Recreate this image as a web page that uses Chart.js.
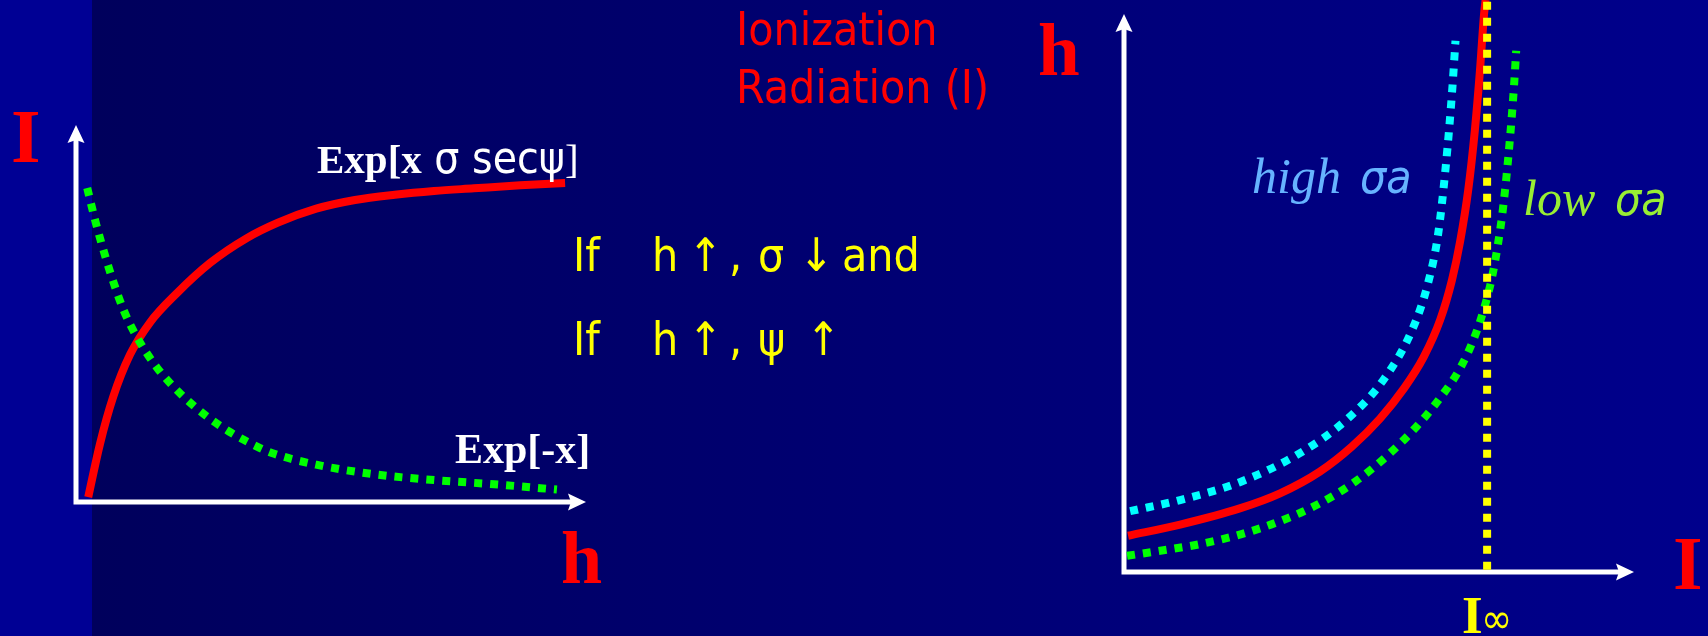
<!DOCTYPE html>
<html><head><meta charset="utf-8">
<script src="https://cdn.jsdelivr.net/npm/chart.js@4/dist/chart.umd.min.js"></script>
<style>
html,body{margin:0;padding:0;width:1708px;height:636px;overflow:hidden;background:#000070;}
#bg{position:absolute;left:0;top:0;width:1708px;height:636px;background:linear-gradient(to right,#00005c 92px,#000070 800px,#00008c 1708px);}
#strip{position:absolute;left:0;top:0;width:92px;height:636px;background:#000094;}
canvas{position:absolute;left:0;top:0;}
</style></head><body>
<div id="bg"></div><div id="strip"></div>
<canvas id="c1" width="1708" height="636"></canvas>
<canvas id="c2" width="1708" height="636"></canvas>
<script>
// ---- Left chart: I versus h ----
const leftRedH = [2.4, 4.7, 7.3, 10.6, 14.5, 19.8, 26.3, 33.5, 39.6, 47.1, 54.7, 62.5, 70.2, 78.0, 87.1, 95.9];
const leftRedI = [1.3, 15.4, 27.9, 39.1, 47.6, 55.4, 63.4, 70.0, 74.1, 77.8, 80.1, 81.5, 82.5, 83.2, 84.0, 84.6];
const leftGreenH = [2.2, 3.7, 5.3, 7.1, 9.4, 12.0, 15.9, 20.2, 24.9, 30.0, 35.5, 38.4, 47.1, 58.8, 70.4, 82.0, 94.3];
const leftGreenI = [83.3, 75.0, 67.2, 59.3, 50.7, 43.6, 35.6, 29.1, 23.5, 18.7, 14.7, 13.0, 9.9, 7.3, 5.8, 4.7, 3.3];

// ---- Right chart: h versus I ----
const rightRedI = [0.8, 11.0, 22.7, 30.6, 38.4, 44.7, 50.2, 54.9, 58.8, 62.0, 64.3, 65.9, 67.5, 68.8, 69.8, 70.6, 70.9];
const rightRedH = [6.5, 8.5, 11.4, 14.1, 18.0, 22.5, 27.5, 32.9, 38.6, 45.2, 52.3, 59.2, 68.5, 79.2, 89.9, 100.0, 102.5];
const rightCyanI = [1.2, 11.0, 22.7, 34.5, 43.9, 51.0, 56.5, 59.6, 61.6, 63.1, 64.3, 65.0];
const rightCyanH = [10.9, 12.9, 16.1, 21.3, 27.5, 34.6, 43.4, 51.7, 60.6, 72.8, 85.7, 95.2];
const rightGreenI = [0.6, 7.1, 14.9, 22.7, 30.6, 38.4, 45.5, 51.8, 57.3, 62.0, 65.9, 68.6, 70.6, 72.2, 73.3, 74.1, 74.7, 75.3, 76.1, 76.5, 76.9];
const rightGreenH = [2.9, 3.8, 5.0, 6.7, 9.1, 12.3, 16.3, 21.0, 26.0, 31.2, 36.5, 41.8, 47.2, 53.0, 58.6, 63.6, 68.3, 73.8, 82.4, 87.5, 93.4];
const iInfinity = 71.2;
const iInfinityH = [0.4, 102.5];

function pts(xs, ys){ return xs.map((x, i) => ({x: x, y: ys[i]})); }

const SERIF = "'Liberation Serif','Times New Roman',serif";
const SANS = "'DejaVu Sans Condensed','DejaVu Sans',sans-serif";

function runs(ctx, x, y, list){
  let cx = x;
  ctx.textBaseline = 'alphabetic';
  ctx.textAlign = 'left';
  for (const r of list){
    ctx.font = r[1];
    ctx.fillStyle = r[2];
    if (r[3] !== undefined) cx = r[3];
    ctx.fillText(r[0], cx, y);
    cx += ctx.measureText(r[0]).width;
  }
}

function arrowAxes(ctx, x0, y0, xTip, yTip){
  ctx.save();
  ctx.strokeStyle = '#ffffff';
  ctx.fillStyle = '#ffffff';
  ctx.lineWidth = 5;
  ctx.lineCap = 'butt';
  ctx.beginPath();
  ctx.moveTo(x0, y0 + 2.5); ctx.lineTo(x0, yTip + 14);
  ctx.moveTo(x0 - 2.5, y0); ctx.lineTo(xTip - 14, y0);
  ctx.stroke();
  ctx.beginPath();
  ctx.moveTo(x0, yTip); ctx.lineTo(x0 - 8.5, yTip + 18); ctx.lineTo(x0, yTip + 15); ctx.lineTo(x0 + 8.5, yTip + 18); ctx.closePath();
  ctx.fill();
  ctx.beginPath();
  ctx.moveTo(xTip, y0); ctx.lineTo(xTip - 18, y0 - 8.5); ctx.lineTo(xTip - 15, y0); ctx.lineTo(xTip - 18, y0 + 8.5); ctx.closePath();
  ctx.fill();
  ctx.restore();
}

const axesPlugin = {
  id: 'arrowAxes',
  beforeDatasetsDraw(chart){
    const xs = chart.scales.x, ys = chart.scales.y;
    arrowAxes(chart.ctx, xs.getPixelForValue(0), ys.getPixelForValue(0), xs.getPixelForValue(100), ys.getPixelForValue(100));
  }
};

const Y = '#ffff00';
const leftText = {
  id: 'leftText',
  afterDraw(chart){
    const ctx = chart.ctx;
    ctx.save();
    runs(ctx, 11, 162, [['I', 'bold 76px ' + SERIF, '#ff0000']]);
    runs(ctx, 561, 583, [['h', 'bold 74px ' + SERIF, '#ff0000']]);
    runs(ctx, 317, 173, [['Exp[x', 'bold 41px ' + SERIF, '#ffffff'], [' σ secψ', '44px ' + SANS, '#ffffff'], [']', '41px ' + SERIF, '#ffffff']]);
    runs(ctx, 455, 463, [['Exp[-x]', 'bold 42px ' + SERIF, '#ffffff']]);
    runs(ctx, 736, 45, [['Ionization', '46px ' + SANS, '#ff0000']]);
    runs(ctx, 736, 103, [['Radiation (I)', '46px ' + SANS, '#ff0000']]);
    const F = '46px ' + SANS;
    runs(ctx, 573, 271, [['If', F, Y], ['h', F, Y, 652], ['↑', F, Y, 688], [',', F, Y, 729], ['σ', F, Y, 758], ['↓', F, Y, 799], ['and', F, Y, 842]]);
    runs(ctx, 573, 355, [['If', F, Y], ['h', F, Y, 652], ['↑', F, Y, 688], [',', F, Y, 729], ['ψ', F, Y, 758], ['↑', F, Y, 806]]);
    ctx.restore();
  }
};

const rightText = {
  id: 'rightText',
  afterDraw(chart){
    const ctx = chart.ctx;
    ctx.save();
    runs(ctx, 1038, 75, [['h', 'bold 75px ' + SERIF, '#ff0000']]);
    runs(ctx, 1673, 589, [['I', 'bold 76px ' + SERIF, '#ff0000']]);
    runs(ctx, 1462, 633, [['I', 'bold 53px ' + SERIF, Y], ['∞', '42px ' + SANS, Y, 1481]]);
    runs(ctx, 1252, 193, [['high', 'italic 50px ' + SERIF, '#66b3ff'], ['σa', 'oblique 46px ' + SANS, '#66b3ff', 1360]]);
    runs(ctx, 1523, 215, [['low', 'italic 50px ' + SERIF, '#99ee33'], ['σa', 'oblique 46px ' + SANS, '#99ee33', 1615]]);
    ctx.restore();
  }
};

function ds(data, color, width, dash, straight){
  const d = {data: data, borderColor: color, borderWidth: width, borderDash: dash || [], borderCapStyle: 'butt',
          pointRadius: 0, fill: false, clip: false};
  if (straight) { d.tension = 0; } else { d.cubicInterpolationMode = 'monotone'; }
  return d;
}

function opts(pad){
  return {
    responsive: false, animation: false, events: [],
    layout: {padding: pad},
    plugins: {legend: {display: false}, tooltip: {enabled: false}},
    scales: {
      x: {type: 'linear', min: 0, max: 100, display: false},
      y: {type: 'linear', min: 0, max: 100, display: false}
    }
  };
}

new Chart(document.getElementById('c1'), {
  type: 'line',
  data: {datasets: [
    ds(pts(leftGreenH, leftGreenI), '#00ff00', 8, [8, 8]),
    ds(pts(leftRedH, leftRedI), '#ff0000', 8)
  ]},
  options: opts({left: 76, right: 1708 - 586, top: 125, bottom: 636 - 502}),
  plugins: [axesPlugin, leftText]
});

new Chart(document.getElementById('c2'), {
  type: 'line',
  data: {datasets: [
    ds(pts([iInfinity, iInfinity], iInfinityH), '#ffff00', 8, [8, 8], true),
    ds(pts(rightCyanI, rightCyanH), '#00ffff', 8, [8, 8]),
    ds(pts(rightGreenI, rightGreenH), '#00ff00', 8, [8, 8]),
    ds(pts(rightRedI, rightRedH), '#ff0000', 8)
  ]},
  options: opts({left: 1124, right: 1708 - 1634, top: 14, bottom: 636 - 572}),
  plugins: [axesPlugin, rightText]
});
</script>
</body></html>
